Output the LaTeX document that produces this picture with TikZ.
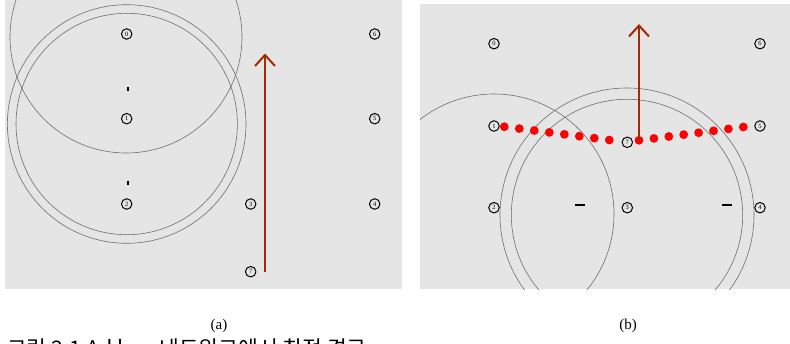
\documentclass[tikz,border=0pt]{standalone}
\usepackage{fontspec}
\setmainfont{Liberation Serif}
\newfontfamily\krfont{Noto Sans CJK KR}
\usetikzlibrary{arrows.meta}
\definecolor{panelgray}{RGB}{229,229,229}
\definecolor{rangegray}{RGB}{110,110,110}
\definecolor{pathred}{RGB}{165,42,0}
\tikzset{
  panelbg/.style={fill=panelgray, draw=none},
  stn/.style={circle, draw=black, line width=1pt, minimum size=10.5pt, inner sep=0pt, font=\fontsize{6.5}{6.5}\selectfont},
  rangecirc/.style={draw=rangegray, line width=0.6pt},
  movearrow/.style={draw=pathred, line width=2pt, -{Straight Barb[length=11pt,width=20pt,line width=2pt]}},
  tickmark/.style={draw=black, line width=1.6pt},
  rdot/.style={circle, fill=red, draw=none, minimum size=8.8pt, inner sep=0pt},
  sublabel/.style={font=\fontsize{15}{15}\selectfont, anchor=base},
}
\begin{document}
\begin{tikzpicture}[x=1pt,y=-1pt]
\useasboundingbox (0,0) rectangle (790,343);
\fill[white] (0,0) rectangle (790,343);
% ---------- panel (a) ----------
\fill[panelbg] (5,0) rectangle (402,289);
\begin{scope}
  \clip (5,0) rectangle (402,289);
  \draw[rangecirc] (126,37) circle[radius=116];
  \draw[rangecirc] (126.7,124) circle[radius=119.3];
  \draw[rangecirc] (126.7,124) circle[radius=110.7];
\end{scope}
\node[stn] (a0) at (126.7,34) {0};
\node[stn] (a1) at (126.7,118.7) {1};
\node[stn] (a2) at (126.7,204) {2};
\node[stn] (a3) at (250.7,204) {3};
\node[stn] (a4) at (374.7,204) {4};
\node[stn] (a5) at (374.7,118.7) {5};
\node[stn] (a6) at (374.7,34) {6};
\node[stn] (a7) at (250.7,271.7) {7};
\draw[tickmark] (127.7,87.3) -- (127.7,91.3);
\draw[tickmark] (127.7,180.7) -- (127.7,184.7);
\coordinate (as) at (265,271.7);
\coordinate (ae) at (265,53.5);
\draw[movearrow] (as) -- (ae);
% ---------- panel (b) ----------
\fill[panelbg] (420,4) rectangle (790,289);
\begin{scope}
  \clip (420,4) rectangle (790,289);
  \draw[rangecirc] (494,214) circle[radius=120];
  \draw[rangecirc] (627,215) circle[radius=127];
  \draw[rangecirc] (627,215) circle[radius=115.7];
\end{scope}
\node[stn] (b0) at (494,43.7) {0};
\node[stn] (b1) at (494,126) {1};
\node[stn] (b2) at (494,207.7) {2};
\node[stn] (b3) at (627.3,207.7) {3};
\node[stn] (b4) at (760,207.7) {4};
\node[stn] (b5) at (760,126) {5};
\node[stn] (b6) at (760,43.7) {6};
\node[stn] (b7) at (627.3,142.3) {7};
\draw[tickmark] (575,205) -- (585,205);
\draw[tickmark] (722.3,205) -- (732.3,205);
\foreach \i in {0,...,7} {
  \node[rdot] (l\i) at ({504.3+15*\i},{126.7+1.9*\i}) {};
  \node[rdot] (r\i) at ({639+14.9*\i},{140.3-1.9*\i}) {};
}
\coordinate (be) at (639,24);
\draw[movearrow] (r0.center) -- (be);
% ---------- labels ----------
\node[sublabel] (la) at (219,329) {(a)};
\node[sublabel] (lb) at (628,329) {(b)};
\begin{scope}
  \clip (0,0) rectangle (790,343);
  \node[anchor=base west, inner sep=0pt, font=\krfont\fontsize{21.5}{21.5}\selectfont] (cap) at (7,356) {그림 2.1 Ad hoc 네트워크에서 최적 경로};
\end{scope}
\end{tikzpicture}
\end{document}
